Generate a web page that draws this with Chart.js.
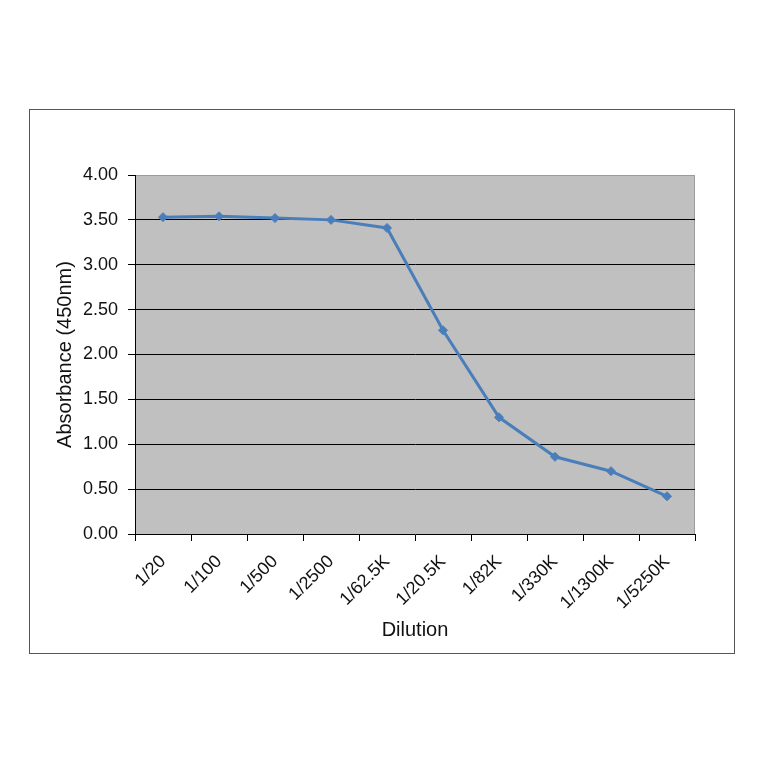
<!DOCTYPE html>
<html>
<head>
<meta charset="utf-8">
<script src="https://cdn.jsdelivr.net/npm/chart.js@4/dist/chart.umd.min.js"></script>
<style>
  html, body { margin: 0; padding: 0; background: #fff; }
  #frame {
    position: absolute; left: 29px; top: 109px;
    width: 706px; height: 545px;
    border: 1px solid #555; box-sizing: border-box;
  }
  canvas { display: block; }
</style>
</head>
<body>
<div id="frame"><canvas id="chart" width="704" height="543"></canvas></div>
<script>
// dilution series
const dilutions = ['1/20', '1/100', '1/500', '1/2500', '1/62.5K', '1/20.5K', '1/82K', '1/330K', '1/1300K', '1/5250K'];
const absorbance = [3.53, 3.54, 3.52, 3.50, 3.41, 2.27, 1.30, 0.86, 0.70, 0.42];
const yTicks = [0, 0.5, 1, 1.5, 2, 2.5, 3, 3.5, 4];

const FONT = 'Liberation Sans, Arial, sans-serif';

// grey plot background
const plotBg = {
    id: 'plotBg',
    beforeDraw(chart) {
        const { ctx, chartArea: a } = chart;
        ctx.save();
        ctx.fillStyle = '#c0c0c0';
        ctx.fillRect(a.left, a.top, a.right - a.left, a.bottom - a.top);
        ctx.strokeStyle = '#9a9a9a';
        ctx.lineWidth = 1;
        ctx.beginPath();
        ctx.moveTo(a.left, a.top + 0.5);
        ctx.lineTo(a.right - 0.5, a.top + 0.5);
        ctx.lineTo(a.right - 0.5, a.bottom);
        ctx.stroke();
        ctx.restore();
    }
};

new Chart(document.getElementById('chart').getContext('2d'), {
    type: 'line',
    data: {
        labels: dilutions,
        datasets: [{
            data: absorbance,
            borderColor: '#4a7ebb',
            backgroundColor: '#4a7ebb',
            borderWidth: 3,
            tension: 0,
            pointStyle: 'rectRot',
            pointRadius: 4.5,
            pointBorderWidth: 1
        }]
    },
    options: {
        responsive: false,
        animation: false,
        devicePixelRatio: 1,
        layout: { padding: { left: 0, top: 65, right: 39, bottom: 0 } },
        plugins: {
            legend: { display: false },
            tooltip: { enabled: false }
        },
        scales: {
            x: {
                offset: true,
                afterFit(scale) { scale.height = 119; },
                grid: {
                    drawOnChartArea: false,
                    offset: true,
                    tickLength: 7,
                    tickColor: '#000'
                },
                border: { color: '#000', width: 1 },
                ticks: {
                    minRotation: 45,
                    maxRotation: 45,
                    autoSkip: false,
                    padding: 10,
                    color: '#111',
                    font: { family: FONT, size: 18 }
                },
                title: {
                    display: true,
                    text: 'Dilution',
                    color: '#111',
                    font: { family: FONT, size: 20 },
                    padding: { top: 4, bottom: 11 }
                }
            },
            y: {
                min: 0,
                max: 4,
                afterFit(scale) { scale.width = 105; },
                afterBuildTicks(scale) { scale.ticks = yTicks.map(v => ({ value: v })); },
                grid: {
                    color: ctx => (ctx.tick && (ctx.tick.value === 4 || ctx.tick.value === 0)) ? 'rgba(0,0,0,0)' : '#000',
                    lineWidth: 1,
                    tickLength: 7,
                    tickColor: '#000'
                },
                border: { color: '#000', width: 1 },
                ticks: {
                    padding: 10,
                    color: '#111',
                    font: { family: FONT, size: 18 },
                    callback: v => Number(v).toFixed(2)
                },
                title: {
                    display: true,
                    text: 'Absorbance (450nm)',
                    color: '#111',
                    font: { family: FONT, size: 20 },
                    padding: { top: 23, bottom: 0 }
                }
            }
        }
    },
    plugins: [plotBg]
});
</script>
</body>
</html>
